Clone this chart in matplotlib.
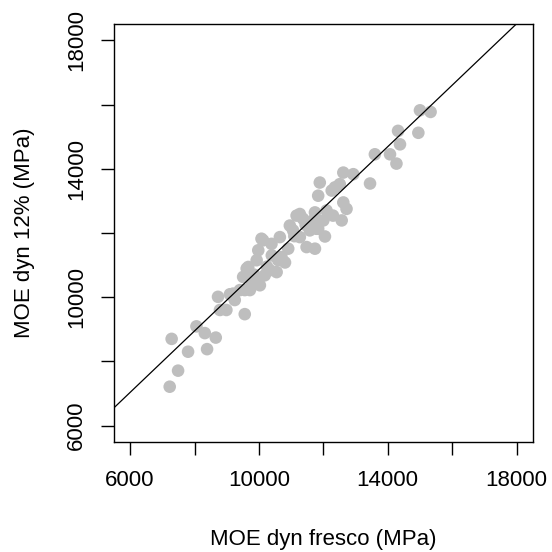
import numpy as np
import matplotlib
matplotlib.use("Agg")
import matplotlib.pyplot as plt

plt.rcParams['font.family'] = ['Liberation Sans', 'DejaVu Sans']

# MOE dinamico: fresco (x) vs 12% (y), MPa
moe_fresco = [7230, 7490, 7290, 7800, 8390, 8660, 8320, 8060, 9560, 8790,
              8990, 8730, 9100, 9410, 9720, 10030, 9620, 9510, 9930, 10130,
              10650, 10340, 10550, 10600, 10910, 11170, 11480, 11740, 11790, 12000,
              12570, 11060, 11270, 9980, 10080, 10390, 11270, 11680, 14380, 14070,
              13600, 14270, 13450, 12620, 12930, 11890, 12510, 12260, 11840, 12620,
              12720, 12100, 11740, 11370, 11840, 15000, 15330, 14320, 14950, 9200,
              9670, 10180, 10810, 9780, 9250, 11580, 12050, 12300, 10960, 12360,
              9930, 9560, 10400, 10700, 11100, 11450, 10250, 9850]
moe_12 = [7210, 7710, 8700, 8300, 8380, 8740, 8880, 9090, 9470, 9600,
          9600, 10010, 10090, 10220, 10220, 10370, 10890, 10630, 11150, 11770,
          11870, 10840, 10780, 11150, 11510, 12540, 11560, 11510, 12130, 12390,
          12390, 12080, 11870, 11460, 11820, 11660, 12590, 12390, 14760, 14450,
          14450, 14160, 13540, 13880, 13830, 13570, 13520, 13320, 13160, 12950,
          12750, 12700, 12640, 12440, 12130, 15820, 15770, 15180, 15120, 10110,
          10940, 10680, 11080, 10460, 9910, 12080, 11890, 12540, 12230, 13420,
          10530, 10220, 11300, 11250, 11900, 12250, 10950, 10700]

# recta ajustada
intercept = 1290
slope = 0.957

ticks = [6000, 8000, 10000, 12000, 14000, 16000, 18000]
tick_labels = ['6000', '', '10000', '', '14000', '', '18000']

fig = plt.figure(figsize=(5.52, 5.52), dpi=100)
ax = fig.add_axes([0.2065, 0.2, 0.7585, 0.756])

ax.scatter(moe_fresco, moe_12, s=82, color='#BEBEBE', edgecolors='none', zorder=2)
ax.axline((0, intercept), slope=slope, color='black', lw=0.9, zorder=3)

ax.set_xlim(5500, 18500)
ax.set_ylim(5500, 18500)
ax.set_xticks(ticks)
ax.set_xticklabels(tick_labels)
ax.set_yticks(ticks)
ax.set_yticklabels(tick_labels, rotation=90, va='center')
ax.tick_params(direction='out', length=9.5, width=1, labelsize=16, pad=11)
ax.tick_params(axis='y', pad=10)
for s in ax.spines.values():
    s.set_linewidth(1)

ax.set_xlabel('MOE dyn fresco (MPa)', fontsize=16, labelpad=27)
ax.set_ylabel('MOE dyn 12% (MPa)', fontsize=16, labelpad=22)

fig.savefig('out.png', dpi=100)
